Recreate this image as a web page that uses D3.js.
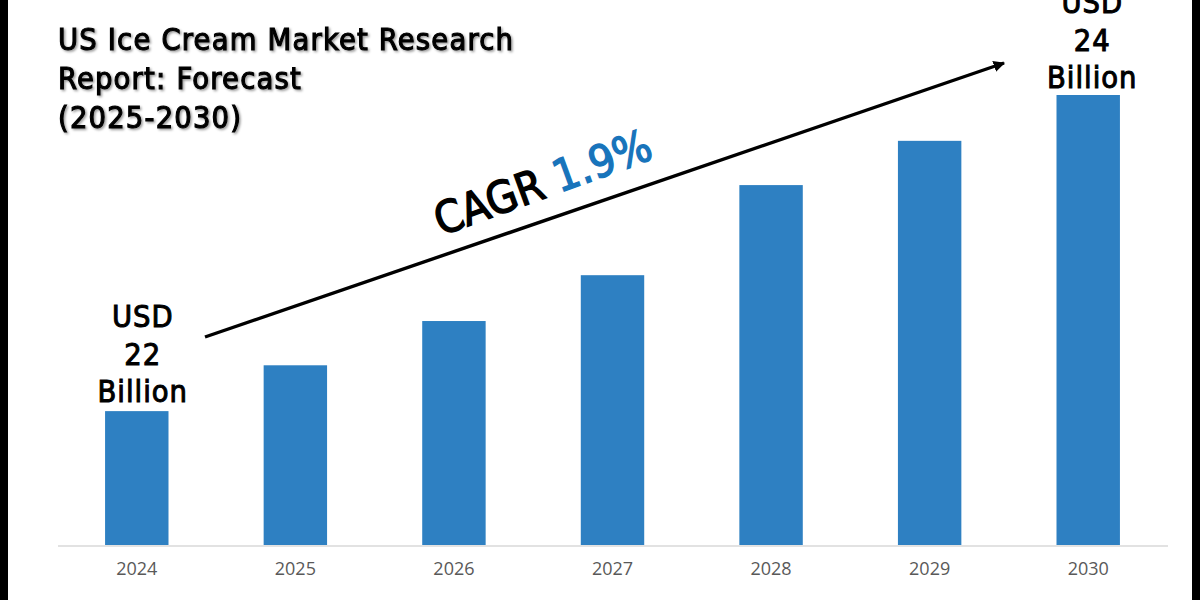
<!DOCTYPE html>
<html><head><meta charset="utf-8">
<script src="https://cdnjs.cloudflare.com/ajax/libs/d3/7.8.5/d3.min.js"></script>
<style>
html,body{margin:0;padding:0;background:#fff}
svg{display:block}
text{font-family:"DejaVu Sans Condensed","DejaVu Sans",sans-serif}
</style></head><body>
<svg id="c" width="1200" height="600"></svg>
<script>
const years = ["2024","2025","2026","2027","2028","2029","2030"];
const values = [22, 22.29, 22.57, 22.86, 23.43, 23.71, 24];
const titleLines = ["US Ice Cream Market Research","Report: Forecast","(2025-2030)"];
const startLabel = ["USD","22","Billion"];
const endLabel = ["USD","24","Billion"];
const baseValue = 21.153;

const svg = d3.select("#c");
const x = d3.scaleBand().domain(years).range([57.5,1167.5]).paddingInner(0.6).paddingOuter(0.3);
const y = d3.scaleLinear().domain([baseValue,24]).range([545,95]);

const defs = svg.append("defs");
defs.append("marker").attr("id","ah").attr("viewBox","0 0 10 10").attr("refX",9).attr("refY",5)
  .attr("markerWidth",3.4).attr("markerHeight",3.4).attr("orient","auto")
  .append("path").attr("d","M0,0L10,5L0,10Z").attr("fill","#000");
const sh = defs.append("filter").attr("id","shadow").attr("x","-10%").attr("y","-20%").attr("width","120%").attr("height","150%");
sh.append("feDropShadow").attr("dx",1.5).attr("dy",1.5).attr("stdDeviation",1).attr("flood-color","#000").attr("flood-opacity",0.4);

svg.selectAll("rect.edge").data([[0,8],[1192,8]]).join("rect").attr("class","edge")
  .attr("x",d=>d[0]).attr("y",0).attr("width",d=>d[1]).attr("height",600).attr("fill","#000");

const ax = svg.append("g").attr("transform","translate(0,545.5)").call(d3.axisBottom(x).tickSize(0).tickPadding(17));
ax.select(".domain").attr("stroke","#d9d9d9").attr("stroke-width",1.5);
ax.selectAll("text").attr("font-size",18).attr("fill","#595959").style("font-family","'Open Sans',sans-serif");

svg.selectAll("rect.bar").data(values).join("rect").attr("class","bar")
  .attr("x",(d,i)=>x(years[i])).attr("width",x.bandwidth())
  .attr("y",d=>y(d)).attr("height",d=>y(baseValue)-y(d)).attr("fill","#2e80c2");

svg.append("g").attr("filter","url(#shadow)").selectAll("text").data(titleLines).join("text")
  .attr("x",58).attr("y",(d,i)=>50+i*39).attr("font-size",30.5).attr("fill","#000")
  .attr("letter-spacing",1.2).attr("stroke","#000").attr("stroke-width",1.1).text(d=>d);

svg.append("line").attr("x1",205).attr("y1",337).attr("x2",1004).attr("y2",63)
  .attr("stroke","#000").attr("stroke-width",3.4).attr("marker-end","url(#ah)");

const cg = svg.append("text").attr("transform","translate(441,236) rotate(-20)").attr("font-size",44.5).attr("stroke-width",1.4);
cg.append("tspan").attr("fill","#000").attr("stroke","#000").text("CAGR ");
cg.append("tspan").attr("fill","#1874bb").attr("stroke","#1874bb").text("1.9%");

function stack(lines, i, bottom, shift){
  svg.append("g").selectAll("text").data(lines).join("text")
    .attr("x",x(years[i])+x.bandwidth()/2+shift).attr("text-anchor","middle")
    .attr("y",(d,k)=>bottom-(lines.length-1-k)*37.5).attr("font-size",30.5).attr("fill","#000")
    .attr("letter-spacing",1).attr("stroke","#000").attr("stroke-width",1).text(d=>d);
}
stack(startLabel,0,402,6);
stack(endLabel,6,88,4);
</script></body></html>
